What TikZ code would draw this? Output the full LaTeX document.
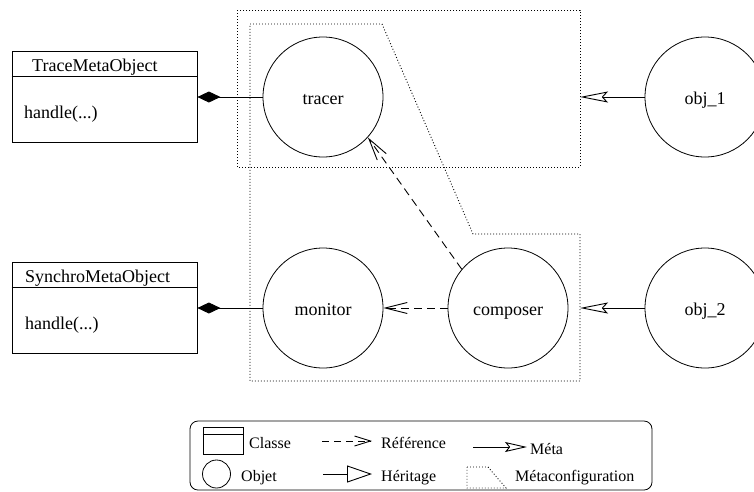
\documentclass[tikz,border=0pt]{standalone}
\usepackage{fontspec}
\setmainfont{Liberation Serif}
\usetikzlibrary{arrows.meta}
\begin{document}
\begin{tikzpicture}[x=1pt,y=-1pt,
  every node/.style={inner sep=0pt},
  obj/.style={circle,draw,line width=0.8pt,minimum size=120pt,font=\fontsize{18}{20}\selectfont,text height=14pt,text depth=0pt},
  cls/.style={draw,line width=0.8pt,minimum width=185pt,minimum height=91pt},
  txt/.style={anchor=base west,font=\fontsize{18}{20}\selectfont},
  ltxt/.style={anchor=base west,font=\fontsize{16}{18}\selectfont},
  region/.style={line width=0.9pt,dash pattern=on 0.9pt off 2.1pt},
  conn/.style={line width=0.9pt},
  comp/.style={conn,-{Diamond[length=23pt,width=11pt]}},
  meta/.style={conn,-{Stealth[open,length=28pt,width=11pt,inset=5pt]}},
  ref/.style={conn,dash pattern=on 8pt off 5pt,-{Straight Barb[length=22pt,width=11pt]}},
]
\clip (0,0) rectangle (754,491);
\fill[white] (0,0) rectangle (754,491);

% regions
\draw[region] (237,10) rectangle (580,167);
\draw[region] (250,24) -- (382,24) -- (473,234) -- (580,234) -- (580,381) -- (250,381) -- cycle;

% objects
\node[obj] (tracer) at (323,97) {tracer};
\node[obj] (monitor) at (323,308) {monitor};
\node[obj] (composer) at (508,308) {composer};
\node[obj] (obj1) at (705,97) {obj\_1};
\node[obj] (obj2) at (705,308) {obj\_2};

% classes
\node[cls] (box1) at (104.5,97) {};
\draw[conn] ([yshift=-25pt]box1.north west) -- ([yshift=-25pt]box1.north east);
\node[txt] (n1) at (32,71) {TraceMetaObject};
\node[txt] (h1) at (24,118) {handle(...)};

\node[cls] (box2) at (104.5,308) {};
\draw[conn] ([yshift=-25pt]box2.north west) -- ([yshift=-25pt]box2.north east);
\node[txt] (n2) at (25,282) {SynchroMetaObject};
\node[txt] (h2) at (25,329) {handle(...)};

% connectors
\coordinate (m1) at (580,97);
\coordinate (m2) at (580,308);
\draw[comp] (tracer.west) -- (box1.east);
\draw[comp] (monitor.west) -- (box2.east);
\draw[meta] (obj1.west) -- (m1);
\draw[meta] (obj2.west) -- (m2);
\draw[ref] (composer.west) -- (monitor.east);
\draw[ref] (composer.140) -- (tracer.-42);

% legend
\draw[line width=0.8pt,rounded corners=8pt] (190,421) rectangle (652,490);
\node[draw,line width=0.8pt,minimum width=40pt,minimum height=27pt] (lcls) at (223,441) {};
\draw[conn] ([yshift=-7pt]lcls.north west) -- ([yshift=-7pt]lcls.north east);
\node[ltxt] (lclsT) at (249,448) {Classe};
\coordinate (lr1) at (322,441);
\coordinate (lr2) at (372,441);
\draw[conn,dash pattern=on 7pt off 5pt,-{Straight Barb[length=16pt,width=10pt]}] (lr1) -- (lr2);
\node[ltxt] (lrefT) at (381,448) {Référence};
\coordinate (lm1) at (473,447);
\coordinate (lm2) at (527,447);
\draw[conn,-{Stealth[open,length=22pt,width=10pt,inset=4pt]}] (lm1) -- (lm2);
\node[ltxt] (lmetaT) at (530,454) {Méta};
\node[circle,draw,line width=0.8pt,minimum size=28pt] (lobj) at (216.5,474) {};
\node[ltxt] (lobjT) at (241,481) {Objet};
\coordinate (lh1) at (323,474);
\coordinate (lh2) at (372,474);
\draw[conn,-{Triangle[open,length=25pt,width=17pt]}] (lh1) -- (lh2);
\node[ltxt] (lherT) at (381,481) {Héritage};
\draw[region] (467,467) -- (488,467) -- (506,488) -- (467,488) -- cycle;
\node[ltxt] (lmcT) at (515,481) {Métaconfiguration};
\end{tikzpicture}
\end{document}
